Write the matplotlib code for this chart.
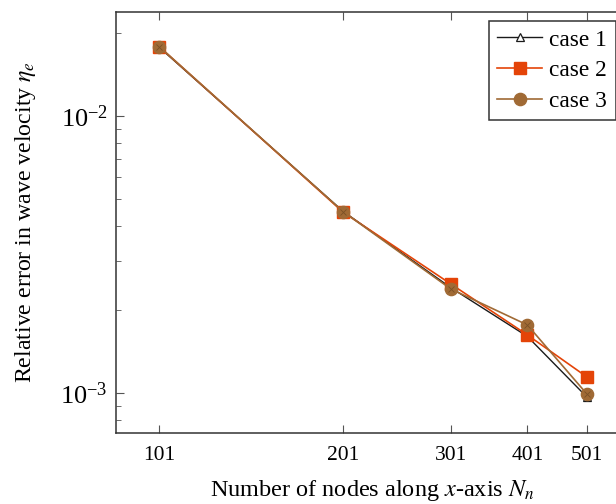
import numpy as np
import matplotlib
matplotlib.use("Agg")
import matplotlib.pyplot as plt
from matplotlib.ticker import FixedLocator, NullLocator, LogLocator, NullFormatter

plt.rcParams["font.family"] = ["Liberation Serif", "DejaVu Serif"]
plt.rcParams["mathtext.fontset"] = "stix"
plt.rcParams["font.size"] = 17

# data
nodes = [101, 201, 301, 401, 501]
case1 = [0.01770, 0.00453, 0.00240, 0.00160, 0.000967]
case2 = [0.01780, 0.00450, 0.002475, 0.00162, 0.001143]
case3 = [0.01780, 0.00452, 0.002374, 0.00176, 0.000992]
xticklabels = ["101", "201", "301", "401", "501"]

BLACK, RED, BROWN = "#1a1a1a", "#e44408", "#a06a35"

fig = plt.figure(figsize=(6.16, 5.04), dpi=100)
ax = fig.add_axes([116 / 616, 71 / 504, 512 / 616, 421 / 504])

ax.plot(nodes, case1, color=BLACK, lw=1.0, marker="^", ms=6, mfc="white",
        mec=BLACK, mew=0.9, label="case 1", zorder=3)
ax.plot(nodes, case2, color=RED, lw=1.2, marker="s", ms=8.5, mfc=RED,
        mec=RED, label="case 2", zorder=4)
ax.plot(nodes, case3, color=BROWN, lw=1.2, marker="o", ms=8.8, mfc=BROWN,
        mec=BROWN, label="case 3", zorder=5)
# the circles carry a faint x, like pgfplots otimes*
ax.plot(nodes, case3, ls="none", marker="x", ms=5, mec="#7a5026", mew=0.6, zorder=6)

ax.set_xscale("log"); ax.set_yscale("log")
ax.set_xlim(85.9, 584.5)
ax.set_ylim(7.17e-4, 0.02374)
ax.xaxis.set_major_locator(FixedLocator(nodes))
ax.set_xticklabels(xticklabels)
ax.xaxis.set_minor_locator(NullLocator())
ax.yaxis.set_minor_locator(LogLocator(base=10, subs=np.arange(2, 10)))
ax.yaxis.set_minor_formatter(NullFormatter())
ax.tick_params(which="both", direction="in", top=True, right=True)
ax.tick_params(axis="x", labelsize=15.5, pad=9)
ax.tick_params(axis="y", labelsize=19, pad=6)
ax.tick_params(which="major", length=6, width=0.8, color="#555555")
ax.tick_params(which="minor", length=3.5, width=0.6, color="#555555")
for s in ax.spines.values():
    s.set_linewidth(1.1); s.set_color("#333333")

ax.set_xlabel(r"Number of nodes along $x$-axis $N_n$", fontsize=17.5, labelpad=10)
ax.set_ylabel(r"Relative error in wave velocity $\eta_e$", fontsize=17.2, labelpad=16)

leg = ax.legend(loc="upper right", bbox_to_anchor=(615.5 / 616, 1 - 21 / 504),
                bbox_transform=fig.transFigure, borderaxespad=0, fancybox=False,
                edgecolor="#333333", framealpha=1, handlelength=1.95, labelspacing=0.4,
                borderpad=0.35, handletextpad=0.3, fontsize=16.8)
leg.get_frame().set_linewidth(1.1)

fig.savefig("out.png", dpi=100)
